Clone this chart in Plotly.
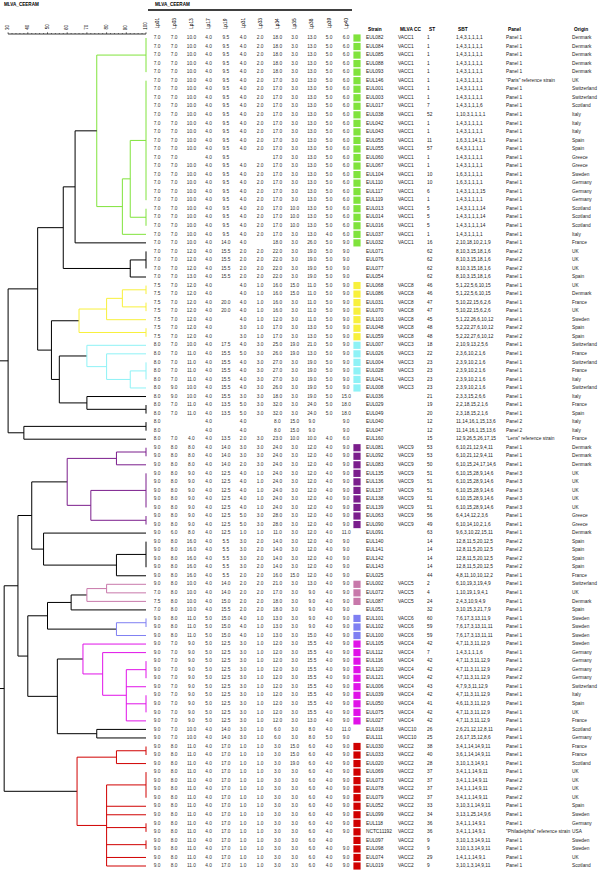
import plotly.graph_objects as go

# ---------------- data ----------------
strains = ["EUL082","EUL084","EUL085","EUL088","EUL093","EUL146","EUL001","EUL003","EUL017","EUL038",
           "EUL042","EUL043","EUL053","EUL055","EUL060","EUL067","EUL104","EUL110","EUL117","EUL119",
           "EUL013","EUL014","EUL016","EUL037","EUL032","EUL071","EUL076","EUL077","EUL054","EUL068",
           "EUL086","EUL031","EUL070","EUL103","EUL048","EUL059","EUL007","EUL026","EUL004","EUL028",
           "EUL041","EUL008","EUL036","EUL029","EUL049","EUL040","EUL047","EUL160","EUL081","EUL092",
           "EUL083","EUL135","EUL136","EUL137","EUL138","EUL139","EUL063","EUL090","EUL091","EUL140",
           "EUL141","EUL142","EUL143","EUL025","EUL002","EUL072","EUL087","EUL051","EUL101","EUL102",
           "EUL100","EUL105","EUL112","EUL116","EUL120","EUL121","EUL006","EUL039","EUL050","EUL075",
           "EUL027","EUL018","EUL111","EUL030","EUL033","EUL020","EUL069","EUL073","EUL078","EUL079",
           "EUL052","EUL099","EUL118","NCTC11192","EUL097","EUL098","EUL074","EUL019"]

mlva_cc = (["VACC1"] * 25 + [""] * 4 + ["VACC8"] * 7 + ["VACC3"] * 6 + [""] * 6 +
           ["VACC9"] * 10 + [""] * 6 + ["VACC5"] * 3 + [""] + ["VACC6"] * 3 +
           ["VACC4"] * 10 + ["VACC10"] * 2 + ["VACC2"] * 15)

st = ["1","1","1","1","1","1","1","1","7","52","1","1","11","57","1","1","10","10","6","1",
      "5","5","5","1","16","62","62","62","62","46","46","47","47","45","48","48","18","22","23","23",
      "23","23","21","19","20","12","12","15","53","53","50","51","51","51","51","51","56","49","63","14",
      "14","14","14","44","2","4","24","32","60","59","59","42","7","42","42","42","43","42","41","42",
      "42","26","25","38","40","28","37","37","37","37","33","34","36","36","9","9","29","9"]

sbt = ["1,4,3,1,1,1,1"] * 8 + ["1,4,3,1,1,1,6", "1,10,3,1,1,1,1", "1,4,3,1,1,1,1", "1,4,3,1,1,1,1",
       "1,6,3,1,14,1,1", "6,4,3,1,1,1,1", "1,4,3,1,1,1,1", "1,4,3,1,1,1,1", "1,6,3,1,1,1,1",
       "1,6,3,1,1,1,1", "1,4,3,1,1,1,15", "1,4,3,1,1,1,1", "1,4,3,1,1,1,14", "1,4,3,1,1,1,14",
       "1,4,3,1,1,1,14", "1,4,3,1,1,1,1", "2,10,18,10,2,1,9"] + ["8,10,3,15,18,1,6"] * 4 + [
       "5,1,22,5,6,10,15", "5,1,22,5,6,10,15", "5,10,22,15,6,2,6", "5,10,22,15,6,2,6",
       "5,1,22,26,6,10,12", "5,2,22,27,6,10,12", "5,2,22,27,6,10,12", "2,10,9,13,2,5,6",
       "2,3,6,10,2,1,6", "2,3,9,10,2,1,6", "2,3,9,10,2,1,6", "2,3,9,10,2,1,6", "2,3,9,10,2,1,6",
       "2,3,3,15,2,6,6", "2,2,18,15,2,1,6", "2,3,18,15,2,1,6", "11,14,16,1,15,13,6",
       "11,14,16,1,15,13,6", "12,9,26,5,26,17,15", "6,10,21,12,9,4,11", "6,10,21,12,9,4,11",
       "6,10,15,24,17,14,6"] + ["6,10,15,28,9,14,6"] * 5 + [
       "6,4,14,12,2,3,6", "6,10,14,10,2,1,6", "9,6,3,10,22,15,11"] + ["12,8,11,5,20,12,5"] * 4 + [
       "4,8,11,10,10,12,2", "6,10,19,3,19,4,9", "1,10,19,1,9,4,1", "2,4,3,10,9,4,9",
       "3,10,15,3,21,7,9", "7,6,17,3,13,11,9", "7,6,17,3,13,11,11", "7,6,17,3,13,11,11",
       "4,7,11,3,11,12,9", "1,4,3,1,1,1,6", "4,7,11,3,11,12,9", "4,7,11,3,11,12,9",
       "4,7,11,3,11,12,9", "4,7,9,3,11,12,9", "4,7,11,3,11,12,9", "4,6,11,3,11,12,9",
       "4,7,11,3,11,12,9", "4,7,11,3,11,12,9", "2,6,21,12,12,8,11", "2,6,17,15,12,8,6",
       "3,4,1,14,14,9,11", "3,6,1,14,14,9,11", "3,10,1,3,14,9,1", "3,4,1,1,14,9,11",
       "3,4,1,1,14,9,11", "3,4,1,1,14,9,11", "3,4,1,1,14,9,11", "3,10,3,1,14,9,11",
       "3,13,1,25,14,9,6", "3,4,1,1,14,9,1", "3,4,1,1,14,9,1", "3,10,1,3,14,9,11",
       "3,10,1,3,14,9,11", "1,4,1,1,14,9,1", "3,10,1,3,14,9,11"]

panel = (["Panel 1"] * 5 + ['"Paris" reference strain'] + ["Panel 1"] * 19 +
         ["Panel 2"] * 3 + ["Panel 1"] * 6 + ["Panel 2"] * 2 + ["Panel 1"] * 9 +
         ["Panel 2"] * 2 + ['"Lens" reference strain'] + ["Panel 1"] * 3 + ["Panel 3"] * 5 +
         ["Panel 1"] * 3 + ["Panel 2"] * 4 + ["Panel 1"] * 11 + ["Panel 2"] * 2 +
         ["Panel 1"] * 11 + ["Panel 2"] * 3 + ["Panel 1"] * 3 +
         ['"Philadelphia" reference strain'] + ["Panel 1"] * 4)

origin = ["Denmark","Denmark","Denmark","Denmark","Denmark","UK","Switzerland","Switzerland","Scotland","Italy",
          "Italy","Italy","Spain","Spain","Greece","Greece","Sweden","Germany","Germany","Germany",
          "Scotland","Scotland","Scotland","Italy","France","UK","UK","UK","Spain","UK",
          "Denmark","France","UK","Sweden","Spain","Spain","Switzerland","France","Switzerland","France",
          "Italy","Switzerland","Italy","France","Spain","Italy","Italy","France","Denmark","Denmark",
          "Denmark","UK","UK","UK","UK","UK","Greece","Greece","Denmark","Spain",
          "Spain","Spain","Spain","France","Switzerland","UK","Denmark","Spain","Sweden","Sweden",
          "Sweden","Sweden","Germany","Germany","Germany","Germany","Switzerland","Italy","Spain","UK",
          "France","Scotland","Germany","France","France","Scotland","UK","UK","UK","UK",
          "Spain","Sweden","Germany","USA","Sweden","Sweden","UK","Scotland"]

loci = ["Lp01", "Lp03", "Lp13", "Lp17", "Lp19", "Lp31", "Lp33", "Lp34", "Lp35", "Lp38", "Lp39", "Lp40"]

# MLVA repeat counts per strain ("-" = no value)
p_a = "7.0 7.0 10.0 4.0 9.5 4.0 2.0 18.0 3.0 13.0 5.0 6.0"
p_b = "7.0 7.0 10.0 4.0 9.5 4.0 2.0 17.0 3.0 13.0 5.0 6.0"
mlva_profiles = [p_a] * 5 + [p_b] * 8 + [p_b] + [
    "7.0 7.0 - 4.0 9.5 - - 17.0 3.0 13.0 5.0 6.0"] + [p_b] * 5 + [
    "7.0 7.0 10.0 4.0 9.5 4.0 2.0 17.0 10.0 13.0 5.0 6.0"] * 3 + [
    "7.0 7.0 10.0 4.0 9.5 4.0 2.0 17.0 3.0 13.0 4.0 6.0",
    "7.0 7.0 10.0 4.0 14.0 4.0 - 18.0 3.0 26.0 5.0 9.0"] + [
    "7.0 7.0 12.0 4.0 15.5 2.0 2.0 22.0 3.0 19.0 5.0 9.0"] * 3 + [
    "7.0 7.0 13.0 4.0 15.5 2.0 2.0 22.0 3.0 19.0 5.0 9.0"] + [
    "7.5 7.0 12.0 4.0 - 4.0 1.0 16.0 15.0 11.0 5.0 9.0"] * 2 + [
    "7.5 7.0 12.0 4.0 20.0 4.0 1.0 16.0 3.0 11.0 5.0 9.0"] * 2 + [
    "7.5 7.0 12.0 4.0 - 4.0 1.0 12.0 3.0 11.0 5.0 9.0"] + [
    "7.5 7.0 12.0 4.0 - 3.0 1.0 17.0 3.0 13.0 5.0 9.0"] * 2 + [
    "8.0 7.0 10.0 4.0 17.5 4.0 3.0 25.0 19.0 21.0 5.0 9.0",
    "8.0 7.0 11.0 4.0 15.5 5.0 3.0 26.0 19.0 13.0 5.0 9.0"] + [
    "8.0 7.0 11.0 4.0 15.5 4.0 3.0 27.0 3.0 19.0 5.0 9.0"] * 3 + [
    "8.0 9.0 10.0 4.0 15.5 4.0 3.0 26.0 3.0 19.0 5.0 9.0",
    "8.0 9.0 10.0 4.0 15.5 3.0 3.0 18.0 3.0 19.0 5.0 15.0"] + [
    "8.0 7.0 11.0 4.0 13.5 5.0 3.0 32.0 3.0 24.0 5.0 18.0"] * 2 + [
    "8.0 - - 4.0 - 4.0 - 8.0 15.0 9.0 - 9.0"] * 2 + [
    "8.0 7.0 4.0 4.0 13.5 2.0 3.0 23.0 10.0 10.0 4.0 6.0"] + [
    "9.0 8.0 8.0 4.0 14.0 3.0 3.0 24.0 3.0 12.0 4.0 9.0"] * 2 + [
    "9.0 8.0 8.0 4.0 14.0 2.0 3.0 24.0 3.0 12.0 4.0 9.0"] + [
    "9.0 8.0 9.0 4.0 12.5 4.0 1.0 24.0 3.0 12.0 4.0 9.0"] * 5 + [
    "9.0 8.0 9.0 4.0 12.5 5.0 3.0 28.0 3.0 12.0 4.0 9.0"] * 2 + [
    "9.0 6.0 8.0 4.0 12.5 1.0 1.0 11.0 3.0 12.0 4.0 11.0"] + [
    "9.0 8.0 16.0 4.0 5.5 3.0 2.0 14.0 3.0 12.0 4.0 9.0"] * 4 + [
    "9.0 8.0 16.0 4.0 5.5 2.0 2.0 16.0 15.0 12.0 4.0 9.0",
    "9.0 8.0 10.0 4.0 14.0 2.0 2.0 21.0 3.0 13.0 4.0 9.0",
    "7.0 8.0 10.0 4.0 14.0 2.0 2.0 17.0 3.0 9.0 4.0 9.0",
    "7.5 8.0 10.0 4.0 15.0 2.0 2.0 18.0 3.0 9.0 4.0 9.0",
    "7.0 8.0 10.0 4.0 15.5 2.0 2.0 18.0 3.0 9.0 4.0 9.0"] + [
    "9.0 8.0 11.0 5.0 15.0 4.0 1.0 13.0 3.0 9.0 4.0 9.0"] * 2 + [
    "9.0 8.0 11.0 5.0 15.0 4.0 1.0 13.0 3.0 15.0 4.0 9.0"] + [
    "9.0 7.0 9.0 5.0 12.5 3.0 1.0 12.0 3.0 15.5 4.0 9.0"] * 9 + [
    "9.0 7.0 9.0 5.0 12.5 3.0 1.0 12.0 3.0 13.0 4.0 9.0",
    "9.0 7.0 10.0 4.0 14.0 3.0 1.0 6.0 3.0 8.0 4.0 11.0",
    "9.0 7.0 10.0 4.0 14.0 3.0 1.0 6.0 3.0 8.0 5.0 9.0"] + [
    "9.0 8.0 11.0 4.0 17.0 1.0 1.0 3.0 15.0 6.0 4.0 9.0"] * 2 + [
    "9.0 8.0 11.0 4.0 17.0 1.0 1.0 3.0 19.0 6.0 4.0 9.0"] + [
    "9.0 8.0 11.0 4.0 17.0 1.0 1.0 3.0 3.0 6.0 4.0 9.0"] * 8 + [
    "9.0 8.0 11.0 4.0 17.0 1.0 1.0 3.0 3.0 6.0 4.0 -"] + [
    "9.0 8.0 11.0 4.0 17.0 1.0 1.0 3.0 3.0 6.0 4.0 9.0"] * 3

cc_colors = {"VACC1": "#80e33c", "VACC8": "#f8f03c", "VACC3": "#8ef2f6", "VACC9": "#7b1d8c",
             "VACC5": "#c878aa", "VACC6": "#7f7ff2", "VACC4": "#e012e8", "VACC2": "#d00000"}

scale_ticks = [30, 40, 50, 60, 70, 80, 90, 100]


# dendrogram: node = (similarity %, children, cluster)
def N(sim, *children, cc=None):
    return {"sim": sim, "ch": list(children), "cc": cc}


green = N(75, N(100, 1, 2, 3, 4, 5),
          N(88, N(92, N(100, *range(6, 21)), N(100, 21, 22, 23)), 24), cc="VACC1")
yellow = N(66, N(80, N(88, N(100, 30, 31), N(100, 32, 33)), 34), N(100, 35, 36), cc="VACC8")
cyan = N(70, 37, N(80, 38, N(92, N(100, 39, 40, 41), 42)), cc="VACC3")
purple = N(60, N(85, N(100, 49, 50), 51), N(72, N(100, 52, 53, 54, 55, 56), N(100, 57, 58)), cc="VACC9")
pink = N(70, N(80, 65, 66), 67, cc="VACC5")
blue = N(85, N(100, 69, 70), 71, cc="VACC6")
magenta = N(68, 72, N(78, 73, N(90, N(100, 74, 75, 76), 77, N(100, 78, 79, 80), 81)), cc="VACC4")
red = N(65, N(85, N(100, 84, 85), 86),
        N(80, N(100, 87, 88, 89, 90), 91, 92, N(100, 93, 94), N(100, 95, 96), 97, 98), cc="VACC2")

tree = N(24,
         N(30,
           N(45,
             N(58, N(64, green, 25), N(92, N(100, 26, 27, 28), 29)),
             N(52, yellow, N(56, cyan, N(70, 43, N(100, 44, 45))))),
           N(38, N(100, 46, 47), 48)),
         N(28,
           N(35,
             N(42, purple, N(48, 59, N(85, N(100, 60, 61, 62, 63), 64))),
             N(40, N(50, N(62, pink, 68), blue), N(55, magenta, N(75, 82, 83)))),
           red))

# ---------------- geometry ----------------
W, H = 607, 872
ROW0, ROWN = 38.0, 866.0          # pixel of first / last row
NROW = len(strains)
PITCH = (ROWN - ROW0) / (NROW - 1)
X100, PXPCT = 146.0, 1.97         # pixel of 100 % similarity, pixels per %
y_top = 1 - ROW0 / PITCH
y_bot = y_top + H / PITCH
s_left = 100 - X100 / PXPCT
s_right = s_left + W / PXPCT


def ypx(p):
    return 1 + (p - ROW0) / PITCH


FONT = "Liberation Sans, Arial, sans-serif"
FS = 4.8

segs = {}


def add_seg(color, x0, y0, x1, y1):
    xs, ys = segs.setdefault(color, ([], []))
    xs += [x0, x1, None]
    ys += [y0, y1, None]


def draw(node, color):
    col = cc_colors.get(node["cc"], color) if node["cc"] else color
    pts = []
    for c in node["ch"]:
        if isinstance(c, int):
            cy, cx = c, 100
        else:
            cy, cx = draw(c, col)
        add_seg(col, node["sim"], cy, cx, cy)
        pts.append(cy)
    add_seg(col, node["sim"], min(pts), node["sim"], max(pts))
    return (min(pts) + max(pts)) / 2, node["sim"]


draw(tree, "#000000")

fig = go.Figure()
for color, (xs, ys) in segs.items():
    fig.add_trace(go.Scatter(x=xs, y=ys, mode="lines", line=dict(color=color, width=1),
                             hoverinfo="skip", showlegend=False))

# scale bar
SCALE_Y = ypx(34)
fig.add_trace(go.Scatter(x=[scale_ticks[0], scale_ticks[-1]], y=[SCALE_Y, SCALE_Y], mode="lines",
                         line=dict(color="#000", width=0.8), showlegend=False, hoverinfo="skip"))
minor = [t for t in range(scale_ticks[0], scale_ticks[-1] + 1, 2)]
mx, my = [], []
for t in minor:
    mx += [t, t, None]
    my += [SCALE_Y, SCALE_Y - (0.2 if t % 10 == 0 else 0.1), None]
fig.add_trace(go.Scatter(x=mx, y=my, mode="lines", line=dict(color="#000", width=0.6),
                         showlegend=False, hoverinfo="skip"))
for t in scale_ticks:
    fig.add_annotation(x=t, y=SCALE_Y - 0.25, text=str(t), textangle=-90, showarrow=False,
                       xanchor="center", yanchor="bottom", font=dict(family=FONT, size=4.5, color="#000"))

rows = list(range(1, NROW + 1))
COL1, CPITCH = 157.0, 17.2
for j, name in enumerate(loci):
    vals = [p.split()[j] for p in mlva_profiles]
    vals = ["" if v == "-" else v for v in vals]
    fig.add_trace(go.Scatter(x=[COL1 + j * CPITCH] * NROW, y=rows, text=vals, mode="text",
                             textposition="middle center", xaxis="x2",
                             textfont=dict(family=FONT, size=FS, color="#333"),
                             showlegend=False, hoverinfo="skip"))
    fig.add_annotation(x=COL1 + j * CPITCH, y=ypx(31), xref="x2", yref="y",
                       text=name, textangle=-90, showarrow=False, xanchor="center", yanchor="bottom",
                       font=dict(family=FONT, size=FS, color="#000"))

sq_rows = [r for r, c in zip(rows, mlva_cc) if c in cc_colors]
sq_cols = [cc_colors[c] for c in mlva_cc if c in cc_colors]
fig.add_trace(go.Scatter(x=[357] * len(sq_rows), y=sq_rows, mode="markers", xaxis="x2",
                         marker=dict(symbol="square", size=7.2, color=sq_cols, line=dict(width=0)),
                         showlegend=False, hoverinfo="skip"))

text_cols = [("Strain", strains, 366), ("MLVA CC", mlva_cc, 398), ("ST", st, 427),
             ("SBT", sbt, 456), ("Panel", panel, 506), ("Origin", origin, 572)]
for head, vals, xl in text_cols:
    fig.add_trace(go.Scatter(x=[xl] * NROW, y=rows, text=vals, mode="text",
                             textposition="middle right", xaxis="x2",
                             textfont=dict(family=FONT, size=FS, color="#222"),
                             showlegend=False, hoverinfo="skip"))
    fig.add_annotation(x=xl, y=ypx(29), xref="x2", yref="y", text="<b>" + head + "</b>",
                       showarrow=False, xanchor="left", yanchor="middle",
                       font=dict(family=FONT, size=FS, color="#000"))

# titles
fig.add_annotation(x=2, y=ypx(4), xref="x2", yref="y", text="<b>MLVA_CEERAM</b>",
                   showarrow=False, xanchor="left", yanchor="middle",
                   font=dict(family=FONT, size=4.6, color="#000"))
fig.add_annotation(x=153, y=ypx(4), xref="x2", yref="y", text="<b>MLVA_CEERAM</b>",
                   showarrow=False, xanchor="left", yanchor="middle",
                   font=dict(family=FONT, size=4.6, color="#000"))
fig.add_shape(type="line", xref="x2", yref="y", x0=148, x1=352, y0=ypx(10), y1=ypx(10),
              line=dict(color="#000", width=1.6))

fig.update_layout(
    width=W, height=H, margin=dict(l=0, r=0, t=0, b=0),
    paper_bgcolor="white", plot_bgcolor="white", showlegend=False,
    xaxis=dict(range=[s_left, s_right], visible=False, fixedrange=True),
    xaxis2=dict(range=[0, W], overlaying="x", visible=False, fixedrange=True),
    yaxis=dict(range=[y_bot, y_top], visible=False, fixedrange=True),
)
fig.write_html("out.html", config={"displayModeBar": False},
               post_script="document.body.style.margin='0';document.body.style.overflow='hidden';")
